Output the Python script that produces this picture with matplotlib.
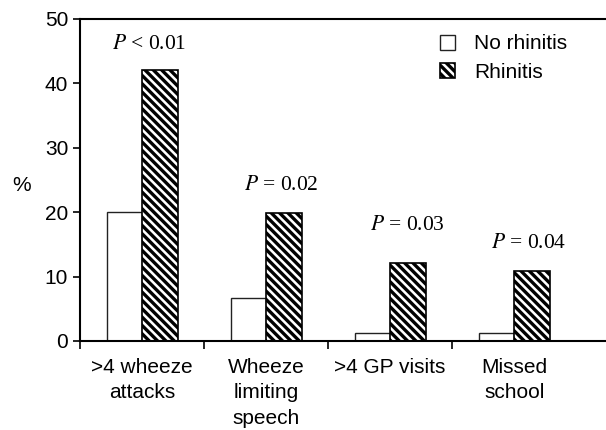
import numpy as np
import matplotlib
matplotlib.use('Agg')
import matplotlib.pyplot as plt

plt.rcParams['font.family'] = ['Liberation Sans', 'DejaVu Sans']
plt.rcParams['mathtext.fontset'] = 'stix'
plt.rcParams['hatch.linewidth'] = 2.4

categories = ['>4 wheeze\nattacks', 'Wheeze\nlimiting\nspeech', '>4 GP visits', 'Missed\nschool']
no_rhinitis = [20.0, 6.7, 1.3, 1.3]
rhinitis = [42.0, 19.8, 12.1, 10.8]
p_labels = [r'$P$ < 0.01', r'$P$ = 0.02', r'$P$ = 0.03', r'$P$ = 0.04']
p_heights = [46.0, 24.2, 18.0, 15.2]
p_offsets = [0.056, 0.12, 0.14, 0.12]

fig = plt.figure(figsize=(6.06, 4.30), dpi=100)
ax = fig.add_axes([0.132, 0.207, 0.868, 0.749])

x = np.arange(len(categories))
w = 0.286
ax.bar(x - w / 2, no_rhinitis, w, color='white', edgecolor='#222222', linewidth=1.0, label='No rhinitis')
ax.bar(x + w / 2, rhinitis, w, color='white', edgecolor='black', linewidth=1.2,
       hatch='\\\\\\\\', label='Rhinitis')

for i in range(len(categories)):
    ax.text(x[i] + p_offsets[i], p_heights[i], p_labels[i], ha='center', va='center',
            fontsize=15.5, family='Liberation Serif')

ax.set_xlim(-0.5, 3.74)
ax.set_ylim(0, 50)
ax.set_yticks([0, 10, 20, 30, 40, 50])
ax.set_xticks(x - 0.5)
ax.set_xticklabels([])
ax.set_xticks(x, minor=True)
ax.set_xticklabels(categories, minor=True, fontsize=15, linespacing=1.45)
ax.tick_params(axis='x', which='minor', length=0, pad=12)
ax.tick_params(axis='x', which='major', length=6, direction='out', width=1.2)
ax.tick_params(axis='y', labelsize=15, length=5, width=1.2)
ax.set_ylabel('%', rotation=0, fontsize=15, va='center', ha='center')
ax.yaxis.set_label_coords(-0.112, 0.484)

ax.spines['right'].set_visible(False)
for s in ['left', 'bottom', 'top']:
    ax.spines[s].set_linewidth(1.5)

ax.legend(loc='upper right', bbox_to_anchor=(0.962, 1.01), frameon=False, fontsize=15,
          handlelength=0.75, handleheight=0.75, handletextpad=0.9, labelspacing=0.45)

fig.savefig('out.png', dpi=100)
